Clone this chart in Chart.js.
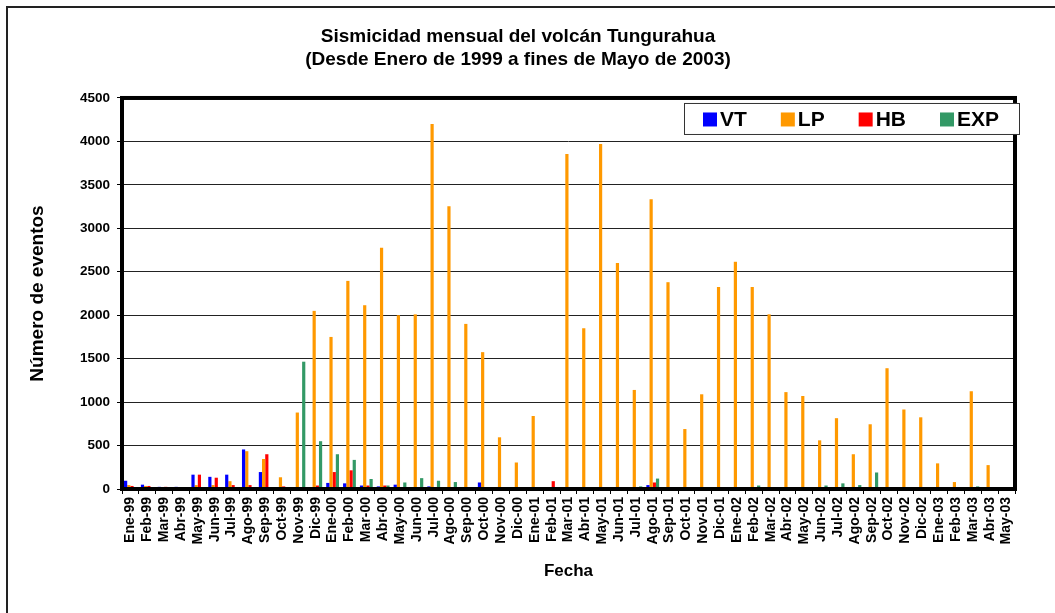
<!DOCTYPE html>
<html>
<head>
<meta charset="utf-8">
<script src="https://cdn.jsdelivr.net/npm/chart.js@4/dist/chart.umd.min.js"></script>
<style>
  html, body { margin: 0; padding: 0; background: #fff; }
  #wrap { width: 1055px; height: 613px; }
</style>
</head>
<body>
<div id="wrap"><canvas id="sismo" width="1055" height="613"></canvas></div>
<script>
// meses de enero 1999 a mayo 2003
const meses = [
  "Ene-99","Feb-99","Mar-99","Abr-99","May-99","Jun-99","Jul-99","Ago-99","Sep-99","Oct-99","Nov-99","Dic-99",
  "Ene-00","Feb-00","Mar-00","Abr-00","May-00","Jun-00","Jul-00","Ago-00","Sep-00","Oct-00","Nov-00","Dic-00",
  "Ene-01","Feb-01","Mar-01","Abr-01","May-01","Jun-01","Jul-01","Ago-01","Sep-01","Oct-01","Nov-01","Dic-01",
  "Ene-02","Feb-02","Mar-02","Abr-02","May-02","Jun-02","Jul-02","Ago-02","Sep-02","Oct-02","Nov-02","Dic-02",
  "Ene-03","Feb-03","Mar-03","Abr-03","May-03"
];

const vt = [
  95, 50, 25, 25, 165, 140, 165, 455, 195, 20, 10, 20,
  70, 65, 40, 30, 50, 15, 30, 15, 15, 75, 20, 15,
  15, 10, 5, 5, 5, 10, 10, 45, 20, 15, 10, 15,
  15, 15, 10, 10, 10, 10, 15, 10, 10, 15, 15, 10,
  15, 20, 10, 15, 20
];

const lp = [
  45, 35, 15, 10, 45, 45, 90, 435, 345, 135, 880, 2050,
  1750, 2395, 2115, 2775, 2000, 2010, 4200, 3255, 1900, 1575, 595, 305,
  840, 10, 3855, 1850, 3970, 2600, 1140, 3335, 2380, 690, 1090, 2325,
  2615, 2325, 2010, 1115, 1070, 560, 815, 400, 745, 1390, 915, 825,
  295, 80, 1125, 275, 20
];

const hb = [
  35, 35, 25, 5, 165, 130, 45, 45, 400, 30, 15, 40,
  195, 215, 40, 40, 15, 5, 15, 5, 5, 10, 5, 5,
  5, 90, 5, 5, 5, 15, 5, 75, 5, 5, 5, 5,
  5, 5, 5, 5, 5, 5, 15, 5, 5, 5, 5, 5,
  5, 5, 5, 5, 5
];

const exp = [
  0, 0, 0, 0, 0, 0, 0, 0, 0, 20, 1465, 550,
  400, 335, 115, 40, 75, 125, 95, 80, 15, 20, 15, 10,
  5, 5, 5, 5, 5, 5, 30, 120, 20, 5, 5, 5,
  10, 40, 15, 10, 15, 40, 65, 45, 190, 15, 5, 10,
  5, 5, 30, 20, 5
];

const yTicks = [0, 500, 1000, 1500, 2000, 2500, 3000, 3500, 4000, 4500];

const FONT = "'Liberation Sans', Arial, sans-serif";

// marco grueso del área de trazado
const marco = {
  id: "marco",
  afterDatasetsDraw(chart) {
    const { ctx, chartArea: a } = chart;
    ctx.save();
    ctx.strokeStyle = "#000";
    ctx.lineWidth = 4;
    ctx.strokeRect(a.left, a.top, a.right - a.left, a.bottom - a.top);
    ctx.restore();
  }
};

// leyenda en caja dentro del gráfico + borde exterior
const leyenda = {
  id: "leyenda",
  afterDraw(chart) {
    const { ctx, chartArea: a } = chart;
    ctx.save();
    // borde exterior
    ctx.strokeStyle = "#222";
    ctx.lineWidth = 2;
    ctx.strokeRect(7, 7, 1200, 800);

    const bx = a.right - 331, by = a.top + 5, bw = 335, bh = 31;
    ctx.fillStyle = "#fff";
    ctx.fillRect(bx, by, bw, bh);
    ctx.strokeStyle = "#333";
    ctx.lineWidth = 1;
    ctx.strokeRect(bx + 0.5, by + 0.5, bw, bh);

    ctx.font = "bold 21px " + FONT;
    ctx.textBaseline = "middle";
    let x = bx + 19;
    const cy = by + bh / 2 + 1;
    chart.data.datasets.forEach(ds => {
      ctx.fillStyle = ds.backgroundColor;
      ctx.fillRect(x, cy - 7, 14, 14);
      ctx.fillStyle = "#000";
      ctx.fillText(ds.label, x + 17, cy + 1);
      x += 14 + 4 + ctx.measureText(ds.label).width + 33;
    });
    ctx.restore();
  }
};

new Chart(document.getElementById("sismo"), {
  type: "bar",
  data: {
    labels: meses,
    datasets: [
      { label: "VT", data: vt, backgroundColor: "#0000FF" },
      { label: "LP", data: lp, backgroundColor: "#FF9900" },
      { label: "HB", data: hb, backgroundColor: "#FF0000" },
      { label: "EXP", data: exp, backgroundColor: "#339966" }
    ]
  },
  options: {
    responsive: false,
    animation: false,
    layout: { padding: { left: 0, right: 19, top: 0, bottom: 0 } },
    datasets: {
      bar: { barPercentage: 1, categoryPercentage: 0.76 }
    },
    plugins: {
      legend: { display: false },
      tooltip: { enabled: false },
      title: {
        display: true,
        text: ["Sismicidad mensual del volcán Tungurahua", "(Desde Enero de 1999 a fines de Mayo de 2003)"],
        color: "#000",
        font: { family: FONT, size: 19, weight: "bold", lineHeight: 1.21 },
        padding: { top: 25, bottom: 27 }
      }
    },
    scales: {
      x: {
        afterFit(scale) { scale.height = 124; },
        grid: { offset: true, drawOnChartArea: false, drawTicks: true, tickLength: 5, color: "#000" },
        border: { display: false },
        ticks: {
          color: "#000",
          font: { family: FONT, size: 14, weight: "bold" },
          minRotation: 90, maxRotation: 90, autoSkip: false, padding: 3
        },
        title: {
          display: true,
          text: "Fecha",
          color: "#000",
          font: { family: FONT, size: 17, weight: "bold" },
          padding: { top: 0, bottom: 31 }
        }
      },
      y: {
        min: 0,
        max: 4500,
        afterFit(scale) { scale.width = 122; },
        afterBuildTicks(scale) { scale.ticks = yTicks.map(v => ({ value: v })); },
        grid: { color: "#222", lineWidth: 1, drawTicks: true, tickLength: 5, tickColor: "#000" },
        border: { display: false },
        ticks: {
          color: "#000",
          font: { family: FONT, size: 13.5, weight: "bold" },
          padding: 7,
          callback: v => String(v)
        },
        title: {
          display: true,
          text: "Número de eventos",
          color: "#000",
          font: { family: FONT, size: 19, weight: "bold" },
          padding: { top: 26, bottom: 0 }
        }
      },
      // eje vacío a la derecha, solo reserva espacio
      margen: {
        type: "linear",
        axis: "y",
        position: "right",
        afterFit(scale) { scale.width = 21; },
        grid: { display: false },
        border: { display: false },
        ticks: { display: false }
      }
    }
  },
  plugins: [marco, leyenda]
});
</script>
</body>
</html>
